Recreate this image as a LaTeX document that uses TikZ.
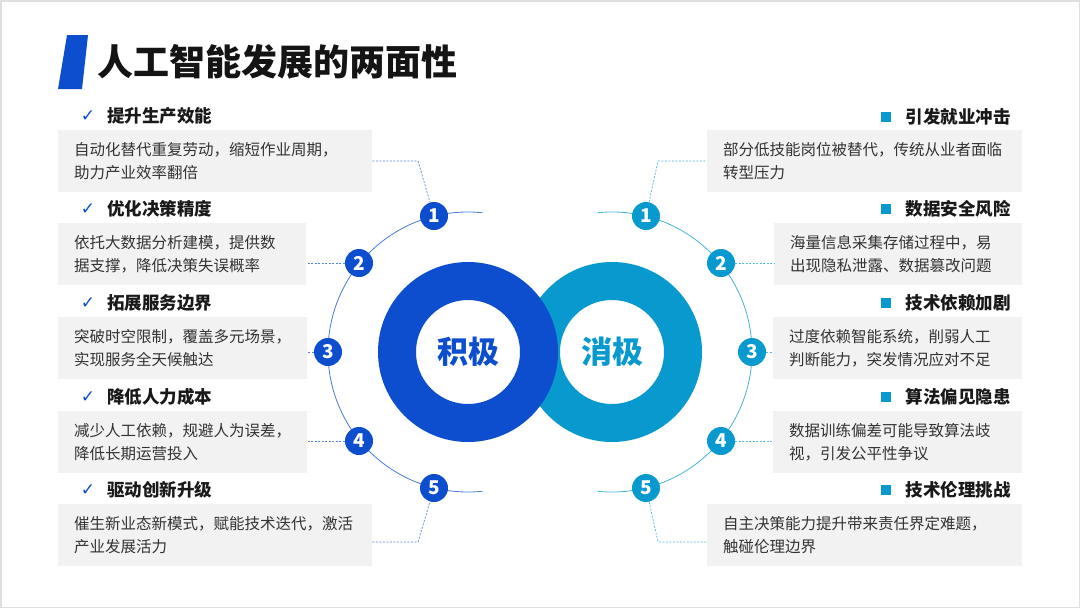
\documentclass[tikz,border=0pt]{standalone}
\usepackage{fontspec}
\setmainfont{Noto Sans CJK SC}
\newfontfamily\symfont{DejaVu Sans}
\definecolor{posblue}{RGB}{12,78,206}
\definecolor{negblue}{RGB}{8,154,206}
\definecolor{boxgray}{RGB}{242,242,242}
\definecolor{textgray}{RGB}{51,51,51}
\tikzstyle{posring}=[circle, draw=posblue, line width=38pt, minimum size=142pt, text=posblue, font=\bfseries\fontsize{31}{31}\selectfont]
\tikzstyle{negring}=[circle, draw=negblue, line width=38pt, minimum size=142pt, text=negblue, font=\bfseries\fontsize{31}{31}\selectfont]
\tikzstyle{posnum}=[circle, fill=posblue, minimum size=28pt, inner sep=0pt, text=white, font=\bfseries\fontsize{19}{19}\selectfont]
\tikzstyle{negnum}=[circle, fill=negblue, minimum size=28pt, inner sep=0pt, text=white, font=\bfseries\fontsize{19}{19}\selectfont]
\tikzstyle{desc}=[fill=boxgray, anchor=north west, minimum height=62pt, inner xsep=16pt, inner ysep=0pt, align=left, text=textgray, font=\fontsize{15.5}{22.5}\selectfont]
\tikzstyle{head}=[inner sep=0pt, text=black!90, font=\bfseries\fontsize{17.5}{17.5}\selectfont]
\tikzstyle{tick}=[inner sep=0pt, text=posblue, font=\symfont\fontsize{17}{17}\selectfont]
\tikzstyle{sqbullet}=[rectangle, fill=negblue, minimum size=10.5pt, inner sep=0pt]
\tikzstyle{posline}=[posblue!75, line width=0.8pt]
\tikzstyle{negline}=[negblue!75, line width=0.8pt]
\tikzstyle{posdash}=[posblue!70, line width=0.7pt, dash pattern=on 2pt off 1.5pt]
\tikzstyle{negdash}=[negblue!70, line width=0.7pt, dash pattern=on 2pt off 1.5pt]
\begin{document}
\begin{tikzpicture}[x=1pt, y=-1pt]
                \useasboundingbox (0,0) rectangle (1080,608);
                \fill[white] (0,0) rectangle (1080,608);
                \draw[gray!25, line width=3pt] (0,0) rectangle (1080,608);
                % title
                \fill[posblue] (67,35) -- (88,35) -- (82,89) -- (58,89) -- cycle;
                \node[inner sep=0pt, anchor=west, text=black!92, font=\bfseries\fontsize{36}{36}\selectfont] (title) at (97,62) {人工智能发展的两面性};
                % rings
                \node[negring] (neg) at (612,352) {消极};
                \node[posring] (pos) at (468,352) {积极};
                \draw[posline] (pos.center) ++(-84:140) arc[start angle=-84, end angle=-276, radius=140];
                \draw[negline] (neg.center) ++(-96:140) arc[start angle=-96, end angle=96, radius=140];
                % left side
                \node[posnum] (l1) at (434,216) {1};
                \node[posnum] (l2) at (359,263) {2};
                \node[posnum] (l3) at (328,352) {3};
                \node[posnum] (l4) at (359,441) {4};
                \node[posnum] (l5) at (434,488) {5};
                \node[tick] (lt1) at (88,116) {✓};
                \node[tick] (lt2) at (88,209) {✓};
                \node[tick] (lt3) at (88,303) {✓};
                \node[tick] (lt4) at (88,397) {✓};
                \node[tick] (lt5) at (88,490) {✓};
                \node[head, anchor=west] (lh1) at (107,116) {提升生产效能};
                \node[head, anchor=west] (lh2) at (107,209) {优化决策精度};
                \node[head, anchor=west] (lh3) at (107,303) {拓展服务边界};
                \node[head, anchor=west] (lh4) at (107,397) {降低人力成本};
                \node[head, anchor=west] (lh5) at (107,490) {驱动创新升级};
                \node[desc, text width=282pt] (lb1) at (58,130) {自动化替代重复劳动，缩短作业周期，\\助力产业效率翻倍};
                \node[desc, text width=216pt] (lb2) at (58,223) {依托大数据分析建模，提供数\\据支撑，降低决策失误概率};
                \node[desc, text width=217pt] (lb3) at (58,317) {突破时空限制，覆盖多元场景，\\实现服务全天候触达};
                \node[desc, text width=217pt] (lb4) at (58,411) {减少人工依赖，规避人为误差，\\降低长期运营投入};
                \node[desc, text width=282pt] (lb5) at (58,504) {催生新业态新模式，赋能技术迭代，激活\\产业发展活力};
                \coordinate (lk1) at (418,161);
                \coordinate (lk5) at (418,542);
                \draw[posdash] (lb1.east |- lk1) -- (lk1) -- (l1);
                \draw[posdash] (l2) -- (l2 -| lb2.east);
                \draw[posdash] (l3) -- (l3 -| lb3.east);
                \draw[posdash] (l4) -- (l4 -| lb4.east);
                \draw[posdash] (lb5.east |- lk5) -- (lk5) -- (l5);
                % right side
                \node[negnum] (r1) at (646,216) {1};
                \node[negnum] (r2) at (721,263) {2};
                \node[negnum] (r3) at (752,352) {3};
                \node[negnum] (r4) at (721,441) {4};
                \node[negnum] (r5) at (646,488) {5};
                \node[sqbullet] (rs1) at (886,117) {};
                \node[sqbullet] (rs2) at (886,209) {};
                \node[sqbullet] (rs3) at (886,303) {};
                \node[sqbullet] (rs4) at (886,397) {};
                \node[sqbullet] (rs5) at (886,490) {};
                \node[head, anchor=east] (rh1) at (1011,117) {引发就业冲击};
                \node[head, anchor=east] (rh2) at (1011,209) {数据安全风险};
                \node[head, anchor=east] (rh3) at (1011,303) {技术依赖加剧};
                \node[head, anchor=east] (rh4) at (1011,397) {算法偏见隐患};
                \node[head, anchor=east] (rh5) at (1011,490) {技术伦理挑战};
                \node[desc, text width=283pt] (rb1) at (707,130) {部分低技能岗位被替代，传统从业者面临\\转型压力};
                \node[desc, text width=216pt] (rb2) at (774,223) {海量信息采集存储过程中，易\\出现隐私泄露、数据篡改问题};
                \node[desc, text width=217pt] (rb3) at (773,317) {过度依赖智能系统，削弱人工\\判断能力，突发情况应对不足};
                \node[desc, text width=217pt] (rb4) at (773,411) {数据训练偏差可能导致算法歧\\视，引发公平性争议};
                \node[desc, text width=283pt] (rb5) at (707,504) {自主决策能力提升带来责任界定难题，\\触碰伦理边界};
                \coordinate (rk1) at (658,161);
                \coordinate (rk5) at (658,542);
                \draw[negdash] (r1) -- (rk1) -- (rk1 -| rb1.west);
                \draw[negdash] (r2) -- (r2 -| rb2.west);
                \draw[negdash] (r3) -- (r3 -| rb3.west);
                \draw[negdash] (r4) -- (r4 -| rb4.west);
                \draw[negdash] (r5) -- (rk5) -- (rk5 -| rb5.west);
            \end{tikzpicture}
\end{document}
